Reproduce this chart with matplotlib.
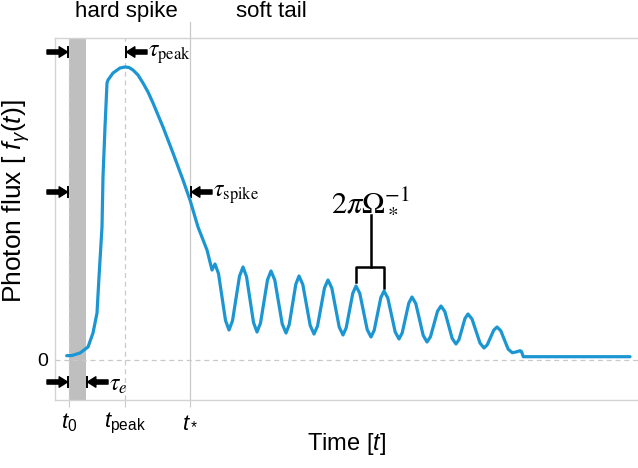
import matplotlib
matplotlib.use("Agg")
import matplotlib.pyplot as plt

plt.rcParams['font.family'] = ['Liberation Sans', 'DejaVu Sans']
plt.rcParams['mathtext.fontset'] = 'custom'
plt.rcParams['mathtext.rm'] = 'Liberation Sans'
plt.rcParams['mathtext.it'] = 'Liberation Sans:italic'
plt.rcParams['mathtext.bf'] = 'Liberation Sans:bold'

# photon flux curve (time, flux in arbitrary units)
time = [-2.3, 3, 11, 19, 24, 28, 30, 33, 34, 36, 38, 39, 44, 51, 56, 60, 64, 69, 74, 79, 84,
        94, 104, 114, 121, 129, 138, 143, 146,
        149.5, 153, 156.5, 160, 163.5, 167, 170.5, 174, 177.5, 181, 184.5, 188,
        191.5, 195, 198.5, 202, 205.8, 209.5, 213.2, 217, 220.2, 223.5, 226.8, 230,
        233.8, 237.5, 241.2, 245, 248.5, 252, 255.5, 259, 262.8, 266.5, 270.2, 274,
        277.2, 280.5, 283.8, 287, 290.8, 294.5, 298.2, 302, 305.2, 308.5, 311.8, 315,
        318.8, 322.5, 326.2, 330, 333.2, 336.5, 339.8, 343, 346.8, 350.5, 354.2, 358,
        361.5, 365, 368.5, 372, 375.8, 379.5, 383.2, 387, 390, 393, 396, 399,
        403, 407, 411, 415, 418.2, 421.5, 424.8, 428, 431.8, 435.5, 439.2, 443.3,
        447, 451, 452.5, 454.3, 561]
flux = [4.3, 4.5, 7, 13, 27, 47, 83, 133, 183, 233, 277, 280, 287, 292, 293, 292.5, 290, 285, 277, 268, 257,
        233, 207, 180, 160, 133, 110, 90, 96,
        86.4, 63, 39.6, 30, 39.2, 61.5, 83.8, 93, 83.5, 60.5, 37.5, 28,
        36.9, 58.5, 80.1, 89, 79.9, 58, 36.1, 27, 35.3, 55.5, 75.7, 84,
        75.5, 55, 34.5, 26, 33.9, 53, 72.1, 80, 72, 52.5, 33, 25,
        32.2, 49.5, 66.8, 74, 66.6, 48.5, 30.4, 23, 29.7, 46, 62.3, 69,
        62, 45, 28, 21, 27.1, 42, 56.9, 63, 56.4, 40.5, 24.6, 18,
        23.3, 36, 48.7, 54, 48.5, 35, 21.5, 16, 20.4, 31, 41.6, 46,
        41, 29, 17, 12, 15.1, 22.5, 29.9, 33, 29.2, 20, 10.8, 7.3,
        8.0, 9.3, 8.5, 3.3, 3.3]

t0 = 0
t_e = 17
t_peak = 56
t_star = 121
tick_pos = [t0, t_peak, t_star]
tick_labels = [r'$t_0$', r'$t_{\rm peak}$', r'$t_*$']

blue = '#1c96d3'
light = '#c9c9c9'

fig = plt.figure(figsize=(6.38, 4.68), dpi=100)
ax = fig.add_axes([55/638, 68/468, 583/638, 362/468])
ax.set_xlim(-14, 569)
ax.set_ylim(-40, 322)

# guides
ax.axvspan(t0, t_e, color='#bfbfbf', lw=0, zorder=1)
ax.axvline(t0, color=light, ls=(0, (4, 3)), lw=0.9, zorder=2)
ax.axvline(t_peak, color=light, ls=(0, (4, 3)), lw=0.9, zorder=2)
ax.axvline(t_star, ymax=1.044, color=light, lw=0.9, clip_on=False, zorder=2)
ax.axhline(0, color=light, ls=(0, (4, 3)), lw=0.9, zorder=2)

ax.plot(time, flux, color=blue, lw=2.3, solid_joinstyle='round',
        solid_capstyle='round', zorder=4)

# widths marked with arrows
arrow = dict(arrowstyle='simple,head_length=0.6,head_width=0.75,tail_width=0.3',
             fc='k', ec='k', shrinkA=0, shrinkB=0, mutation_scale=10)
right_arrows = [(t0, 308), (t0, 168), (t0, -22)]
left_arrows = [(t_peak, 308, r'$\tau_{\rm peak}$'), (t_star, 168, r'$\tau_{\rm spike}$'),
               (t_e, -22, r'$\tau_e$')]
for x, y in right_arrows:
    ax.annotate('', xy=(x - 1.5, y), xytext=(x - 22, y), arrowprops=arrow,
                annotation_clip=False)
    ax.plot([x - 0.7], [y], marker='|', ms=9, mew=1.4, color='k', clip_on=False)
for x, y, lab in left_arrows:
    ax.annotate('', xy=(x + 1.5, y), xytext=(x + 22, y), arrowprops=arrow,
                annotation_clip=False)
    ax.plot([x + 0.5], [y], marker='|', ms=9, mew=1.4, color='k', clip_on=False)
    ax.text(x + 23, y - 3, lab, fontsize=17, va='center', ha='left',
            math_fontfamily='stix')

# oscillation period bracket
ax.plot([287, 287, 315, 315], [78, 93, 93, 72], color='k', lw=1.8)
ax.plot([302, 302], [93, 145], color='k', lw=1.8)
ax.text(301, 160, r'$2\pi\Omega_*^{-1}$', fontsize=22, ha='center', va='center',
        math_fontfamily='stix')

ax.text(57, 348, 'hard spike', fontsize=16, ha='center', va='center')
ax.text(202, 348, 'soft tail', fontsize=16, ha='center', va='center')

ax.set_xticks(tick_pos)
ax.set_xticklabels(tick_labels, fontsize=16)
ax.set_yticks([0])
ax.set_yticklabels(['0'], fontsize=14)
ax.tick_params(axis='x', length=5, color=light, pad=3)
ax.tick_params(axis='y', length=0, pad=5)

ax.set_xlabel(r'Time [$t$]', fontsize=17)
ax.xaxis.set_label_coords(0.5, -0.085)
ax.set_ylabel(r'Photon flux [ $f_\gamma(t)$]', fontsize=19)
ax.yaxis.set_label_coords(-0.04, 0.55)

for side in ['left', 'top', 'bottom']:
    ax.spines[side].set_color('#d3d3d3')
    ax.spines[side].set_linewidth(1)
ax.spines['right'].set_visible(False)

fig.savefig('out.png', dpi=100)
